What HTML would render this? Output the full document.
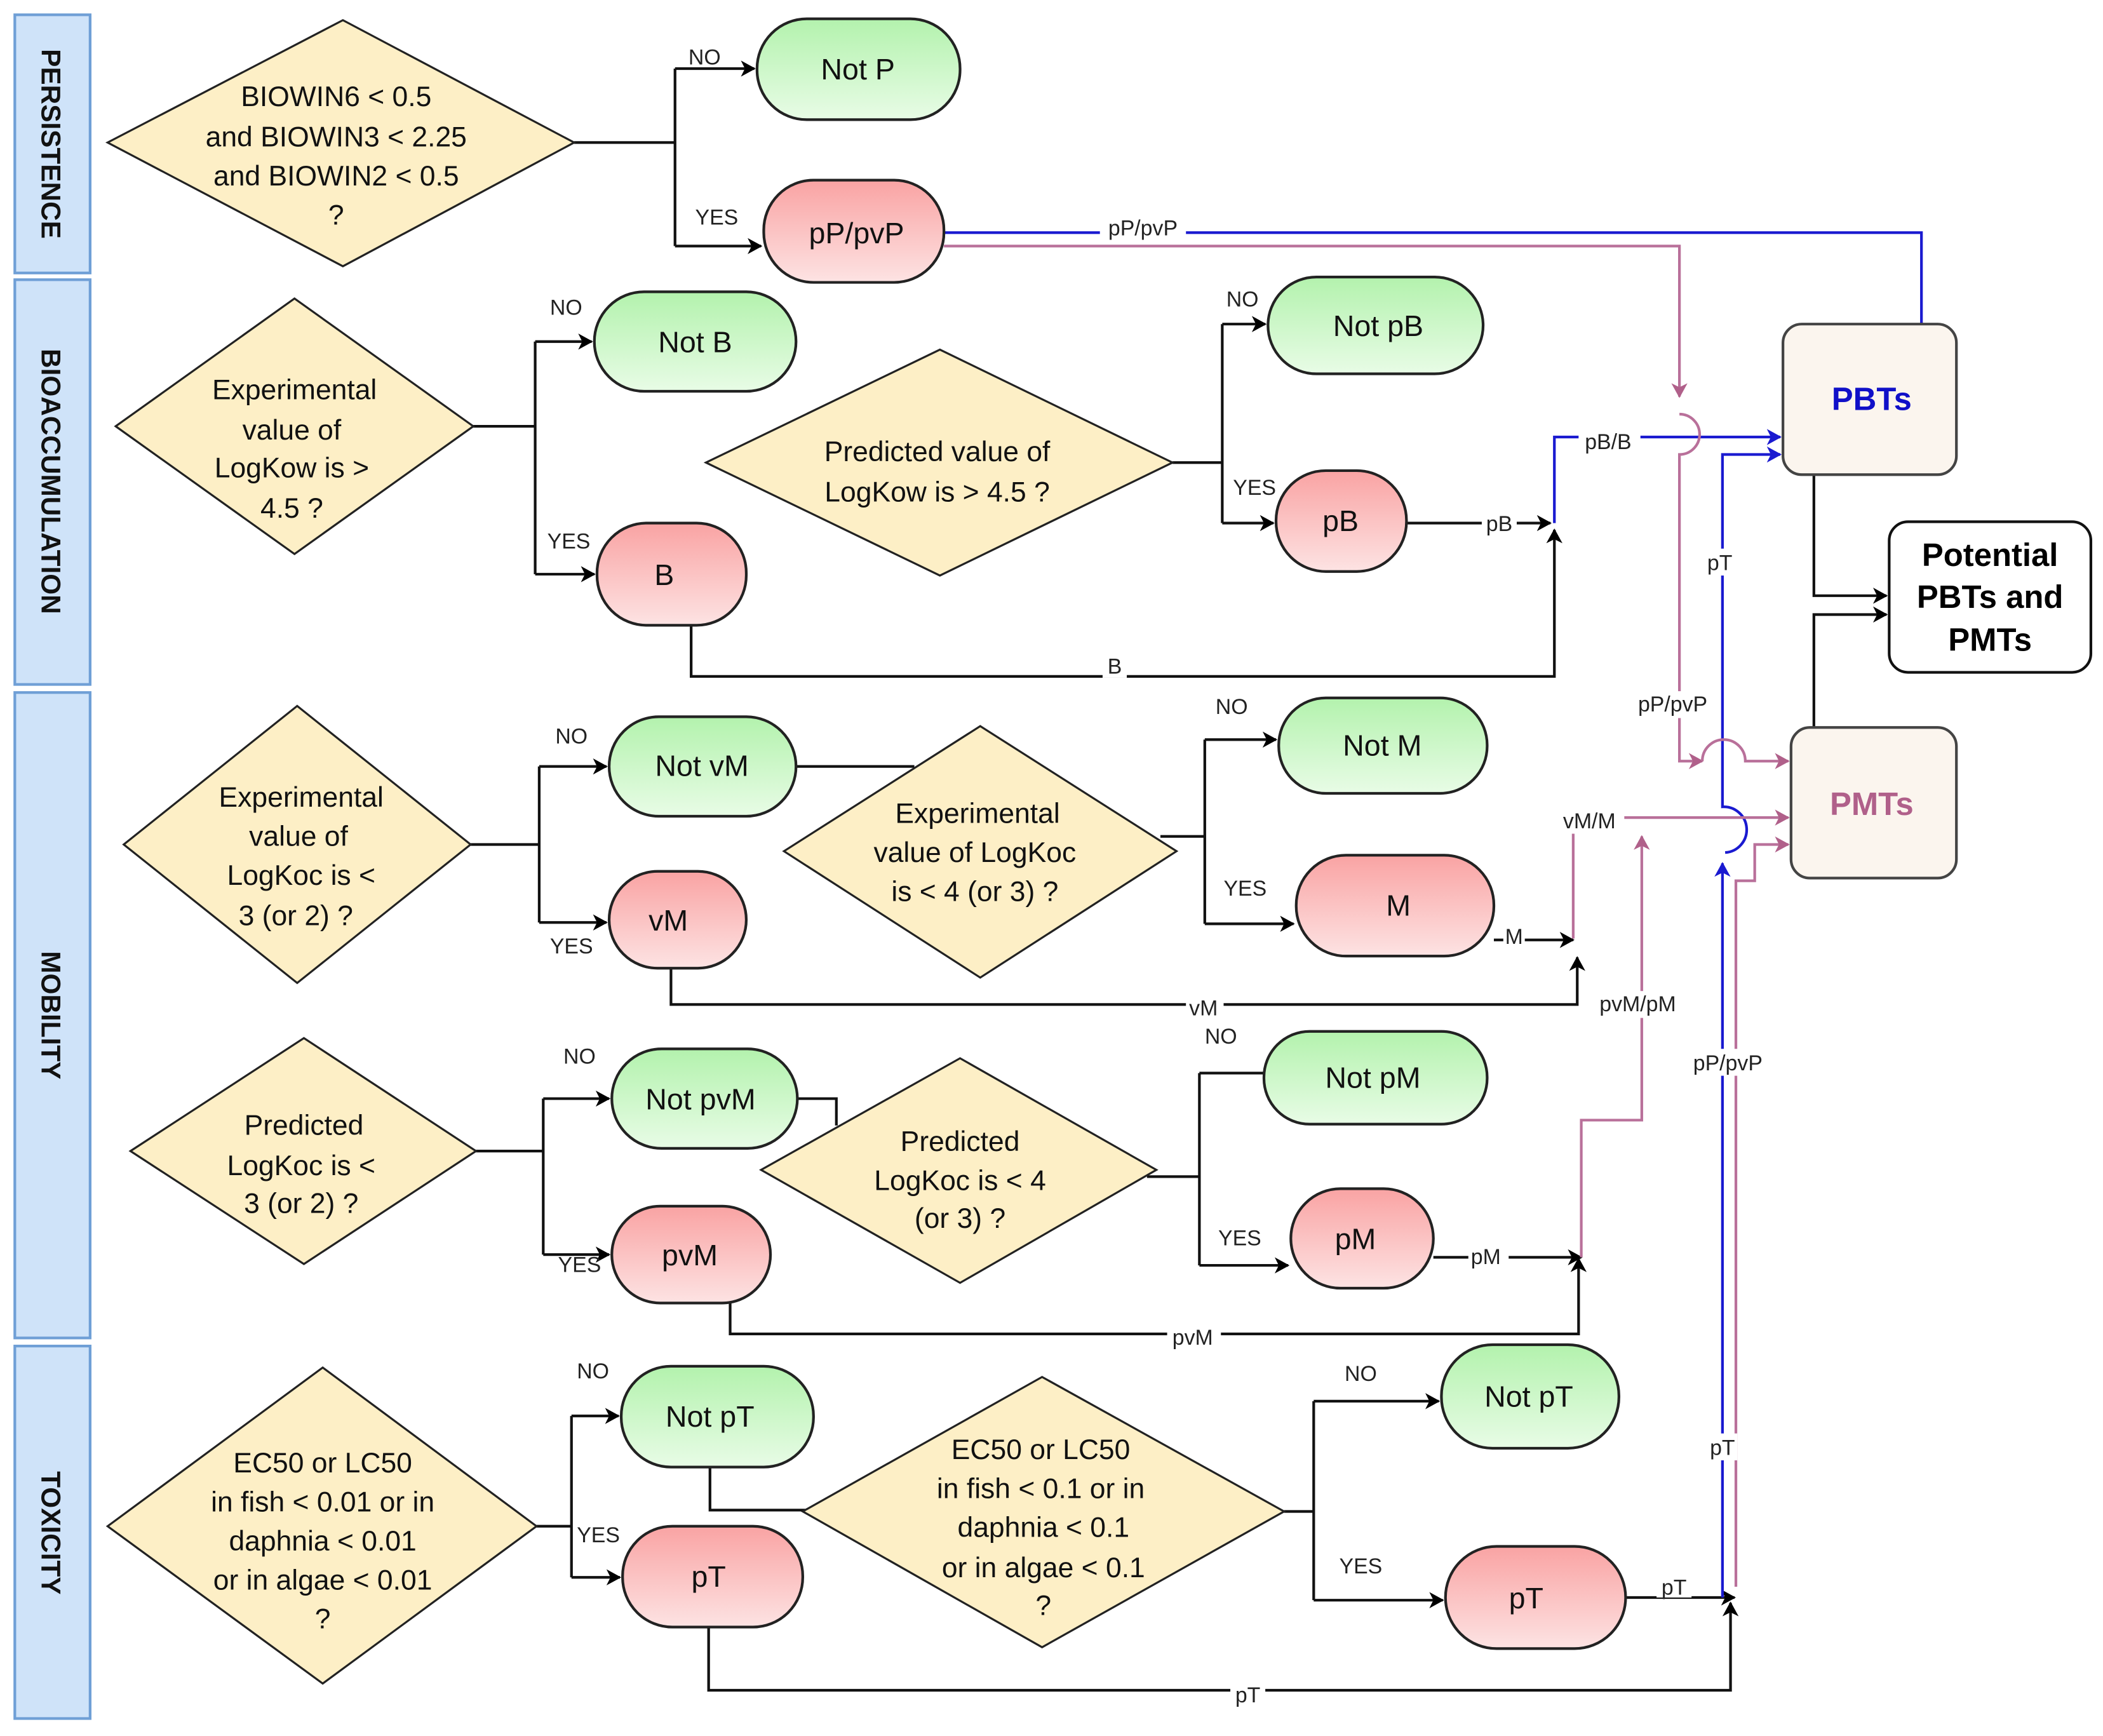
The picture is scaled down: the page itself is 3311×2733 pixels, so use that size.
<!DOCTYPE html>
<html><head><meta charset="utf-8"><style>
html,body{margin:0;padding:0;background:#fff;}
svg{display:block;}
text{font-family:"Liberation Sans",Arial,sans-serif;}
</style></head><body>
<svg width="3311" height="2733" viewBox="0 0 1564 1291" xmlns="http://www.w3.org/2000/svg">
<defs>
<linearGradient id="g" x1="0" y1="0" x2="0" y2="1"><stop offset="0" stop-color="#b3f2ad"/><stop offset="1" stop-color="#e8fce6"/></linearGradient>
<linearGradient id="r" x1="0" y1="0" x2="0" y2="1"><stop offset="0" stop-color="#f9a3a3"/><stop offset="1" stop-color="#fde3e3"/></linearGradient>
<marker id="ak" markerWidth="12" markerHeight="12" refX="10" refY="6" orient="auto" markerUnits="userSpaceOnUse"><path d="M0,0 L11,6 L0,12 L3,6 Z" fill="#000"/></marker>
<marker id="ab" markerWidth="12" markerHeight="12" refX="10" refY="6" orient="auto" markerUnits="userSpaceOnUse"><path d="M0,0 L11,6 L0,12 L3,6 Z" fill="#1a1ad0"/></marker>
<marker id="ap" markerWidth="12" markerHeight="12" refX="10" refY="6" orient="auto" markerUnits="userSpaceOnUse"><path d="M0,0 L11,6 L0,12 L3,6 Z" fill="#b0608a"/></marker>
</defs>

<!-- lanes -->
<g fill="#cfe3f9" stroke="#6f9fd6" stroke-width="2">
<rect x="11" y="11" width="56" height="192"/>
<rect x="11" y="208" width="56" height="301"/>
<rect x="11" y="515" width="56" height="480"/>
<rect x="11" y="1001" width="56" height="277"/>
</g>
<g font-weight="bold" font-size="20" fill="#111" text-anchor="middle">
<text transform="translate(31,107) rotate(90)">PERSISTENCE</text>
<text transform="translate(31,358) rotate(90)">BIOACCUMULATION</text>
<text transform="translate(31,755) rotate(90)">MOBILITY</text>
<text transform="translate(31,1140) rotate(90)">TOXICITY</text>
</g>

<!-- black connectors -->
<g fill="none" stroke="#111" stroke-width="2">
<path d="M427,106 H502"/><path d="M502,51 V183"/>
<path d="M502,51 H561" marker-end="url(#ak)"/><path d="M502,183 H566" marker-end="url(#ak)"/>
<path d="M352,317 H398"/><path d="M398,254 V427"/>
<path d="M398,254 H440" marker-end="url(#ak)"/><path d="M398,427 H442" marker-end="url(#ak)"/>
<path d="M514,465 V503 H1156 V394" marker-end="url(#ak)"/>
<path d="M872,344 H909"/><path d="M909,241 V389"/>
<path d="M909,241 H941" marker-end="url(#ak)"/><path d="M909,389 H947" marker-end="url(#ak)"/>
<path d="M1046,389 H1153" marker-end="url(#ak)"/>
<path d="M1349,353 V443 H1403" marker-end="url(#ak)"/>
<path d="M1349,541 V457 H1403" marker-end="url(#ak)"/>
<path d="M350,628 H401"/><path d="M401,570 V686"/>
<path d="M401,570 H451" marker-end="url(#ak)"/><path d="M401,686 H451" marker-end="url(#ak)"/>
<path d="M592,570 H680"/>
<path d="M863,622 H896"/><path d="M896,550 V687"/>
<path d="M896,550 H949" marker-end="url(#ak)"/><path d="M896,687 H962" marker-end="url(#ak)"/>
<path d="M1111,699 H1170" marker-end="url(#ak)"/>
<path d="M499,720 V747 H1173 V712" marker-end="url(#ak)"/>
<path d="M354,856 H404"/><path d="M404,817 V933"/>
<path d="M404,817 H453" marker-end="url(#ak)"/><path d="M404,933 H453" marker-end="url(#ak)"/>
<path d="M593,817 H622 V837"/>
<path d="M853,875 H892"/><path d="M892,798 V941"/>
<path d="M892,798 H940"/><path d="M892,941 H958" marker-end="url(#ak)"/>
<path d="M1066,935 H1176" marker-end="url(#ak)"/>
<path d="M543,969 V992 H1174 V936" marker-end="url(#ak)"/>
<path d="M399,1135 H425"/><path d="M425,1053 V1173"/>
<path d="M425,1053 H460" marker-end="url(#ak)"/><path d="M425,1173 H461" marker-end="url(#ak)"/>
<path d="M528,1091 V1123 H600"/>
<path d="M955,1124 H977"/><path d="M977,1042 V1190"/>
<path d="M977,1042 H1070" marker-end="url(#ak)"/><path d="M977,1190 H1073" marker-end="url(#ak)"/>
<path d="M1209,1188 H1290" marker-end="url(#ak)"/>
<path d="M527,1210 V1257 H1287 V1192" marker-end="url(#ak)"/>
</g>

<!-- blue connectors -->
<g fill="none" stroke="#1a1ad0" stroke-width="2">
<path d="M702,173 H1429 V241"/>
<path d="M1156,389 V325 H1324" marker-end="url(#ab)"/>
<path d="M1281,1188 V642" marker-end="url(#ab)"/>
<path d="M1283,634 A13,13 0 0 0 1281,600 V338 H1324" marker-end="url(#ab)"/>
</g>
<!-- pink connectors -->
<g fill="none" stroke="#b9709a" stroke-width="2">
<path d="M702,183 H1249 V295" marker-end="url(#ap)"/>
<path d="M1249,308 A14,14 0 0 1 1249,338 V566 H1266" marker-end="url(#ap)"/>
<path d="M1266,566 A15,15 0 0 1 1298,566 H1330" marker-end="url(#ap)"/>
<path d="M1170,698 V608 H1330" marker-end="url(#ap)"/>
<path d="M1176,935 V833 H1221 V622" marker-end="url(#ap)"/>
<path d="M1291,1180 V655 H1305 V628 H1330" marker-end="url(#ap)"/>
</g>

<!-- diamonds -->
<g fill="#fdefc6" stroke="#222" stroke-width="1.5">
<polygon points="80,106 255,15 427,106 255,198"/>
<polygon points="86,317 219,222 352,317 219,412"/>
<polygon points="525,344 699,260 872,344 699,428"/>
<polygon points="92,628 221,525 350,628 221,731"/>
<polygon points="583,633 729,540 875,633 729,727"/>
<polygon points="97,856 226,772 354,856 226,940"/>
<polygon points="566,870 714,787 860,870 714,954"/>
<polygon points="80,1135 240,1017 399,1135 240,1252"/>
<polygon points="597,1124 775,1024 955,1124 775,1225"/>
</g>

<!-- terminal nodes -->
<g stroke="#222" stroke-width="2">
<rect x="563" y="14" width="151" height="75" rx="37" fill="url(#g)"/>
<rect x="568" y="134" width="134" height="76" rx="37" fill="url(#r)"/>
<rect x="442" y="217" width="150" height="74" rx="37" fill="url(#g)"/>
<rect x="444" y="389" width="111" height="76" rx="37" fill="url(#r)"/>
<rect x="943" y="206" width="160" height="72" rx="36" fill="url(#g)"/>
<rect x="949" y="350" width="97" height="75" rx="37" fill="url(#r)"/>
<rect x="453" y="533" width="139" height="74" rx="37" fill="url(#g)"/>
<rect x="453" y="648" width="102" height="72" rx="36" fill="url(#r)"/>
<rect x="951" y="519" width="155" height="71" rx="35" fill="url(#g)"/>
<rect x="964" y="636" width="147" height="75" rx="37" fill="url(#r)"/>
<rect x="455" y="780" width="138" height="74" rx="37" fill="url(#g)"/>
<rect x="455" y="897" width="118" height="72" rx="36" fill="url(#r)"/>
<rect x="940" y="767" width="166" height="69" rx="34" fill="url(#g)"/>
<rect x="960" y="884" width="106" height="74" rx="37" fill="url(#r)"/>
<rect x="462" y="1016" width="143" height="75" rx="37" fill="url(#g)"/>
<rect x="463" y="1135" width="134" height="75" rx="37" fill="url(#r)"/>
<rect x="1072" y="1000" width="132" height="77" rx="38" fill="url(#g)"/>
<rect x="1075" y="1150" width="134" height="76" rx="38" fill="url(#r)"/>
</g>
<g stroke="#444" stroke-width="2">
<rect x="1326" y="241" width="129" height="112" rx="14" fill="#fbf5ee"/>
<rect x="1332" y="541" width="123" height="112" rx="14" fill="#fbf5ee"/>
<rect x="1405" y="388" width="150" height="112" rx="14" fill="#fff" stroke="#111"/>
</g>

<!-- node text -->
<g font-size="21" fill="#111" text-anchor="middle">
<text x="250" y="79">BIOWIN6 &lt; 0.5</text>
<text x="250" y="109">and BIOWIN3 &lt; 2.25</text>
<text x="250" y="138">and BIOWIN2 &lt; 0.5</text>
<text x="250" y="167">?</text>
<text x="219" y="297">Experimental</text>
<text x="217" y="327">value of</text>
<text x="217" y="355">LogKow is &gt;</text>
<text x="217" y="385">4.5 ?</text>
<text x="697" y="343">Predicted value of</text>
<text x="697" y="373">LogKow is &gt; 4.5 ?</text>
<text x="224" y="600">Experimental</text>
<text x="222" y="629">value of</text>
<text x="224" y="658">LogKoc is  &lt;</text>
<text x="220" y="688">3 (or 2) ?</text>
<text x="727" y="612">Experimental</text>
<text x="725" y="641">value of LogKoc</text>
<text x="725" y="670">is  &lt; 4 (or 3)  ?</text>
<text x="226" y="844">Predicted</text>
<text x="224" y="874">LogKoc is  &lt;</text>
<text x="224" y="902">3 (or 2) ?</text>
<text x="714" y="856">Predicted</text>
<text x="714" y="885">LogKoc is  &lt; 4</text>
<text x="714" y="913">(or 3)  ?</text>
<text x="240" y="1095">EC50 or LC50</text>
<text x="240" y="1124">in fish &lt; 0.01 or in</text>
<text x="240" y="1153">daphnia &lt; 0.01</text>
<text x="240" y="1182">or in algae &lt; 0.01</text>
<text x="240" y="1211">?</text>
<text x="774" y="1085">EC50 or LC50</text>
<text x="774" y="1114">in fish &lt; 0.1 or in</text>
<text x="776" y="1143">daphnia &lt; 0.1</text>
<text x="776" y="1173">or in algae &lt; 0.1</text>
<text x="776" y="1201">?</text>
</g>
<g font-size="22" fill="#111" text-anchor="middle">
<text x="638" y="59">Not P</text>
<text x="637" y="181">pP/pvP</text>
<text x="517" y="262">Not B</text>
<text x="494" y="435">B</text>
<text x="1025" y="250">Not pB</text>
<text x="997" y="395">pB</text>
<text x="522" y="577">Not vM</text>
<text x="497" y="692">vM</text>
<text x="1028" y="562">Not M</text>
<text x="1040" y="681">M</text>
<text x="521" y="825">Not pvM</text>
<text x="513" y="941">pvM</text>
<text x="1021" y="809">Not pM</text>
<text x="1008" y="929">pM</text>
<text x="528" y="1061">Not pT</text>
<text x="527" y="1180">pT</text>
<text x="1137" y="1046">Not pT</text>
<text x="1135" y="1196">pT</text>
</g>
<g font-size="24" font-weight="bold" text-anchor="middle">
<text x="1392" y="305" fill="#1010c8">PBTs</text>
<text x="1392" y="606" fill="#b0608a">PMTs</text>
<text x="1480" y="421" fill="#000">Potential</text>
<text x="1480" y="452" fill="#000">PBTs and</text>
<text x="1480" y="484" fill="#000">PMTs</text>
</g>

<!-- edge labels -->
<g font-size="16" fill="#222" text-anchor="middle">
<g fill="#fff" stroke="none">
<rect x="818" y="160" width="64" height="17"/><rect x="1174" y="320" width="46" height="17"/>
<rect x="1102" y="380" width="26" height="17"/><rect x="820" y="487" width="18" height="17"/>
<rect x="1270" y="408" width="22" height="20"/><rect x="1208" y="514" width="70" height="20"/>
<rect x="1154" y="600" width="54" height="20"/><rect x="1118" y="688" width="16" height="17"/>
<rect x="882" y="740" width="28" height="17"/><rect x="1180" y="737" width="76" height="20"/>
<rect x="1250" y="780" width="70" height="20"/><rect x="1092" y="926" width="30" height="17"/>
<rect x="868" y="985" width="40" height="17"/><rect x="1270" y="1066" width="22" height="20"/>
<rect x="1232" y="1171" width="26" height="17"/><rect x="915" y="1250" width="26" height="17"/>
</g>
<text x="524" y="48">NO</text><text x="533" y="167">YES</text>
<text x="421" y="234">NO</text><text x="423" y="408">YES</text>
<text x="924" y="228">NO</text><text x="933" y="368">YES</text>
<text x="425" y="553">NO</text><text x="425" y="709">YES</text>
<text x="916" y="531">NO</text><text x="926" y="666">YES</text>
<text x="431" y="791">NO</text><text x="431" y="946">YES</text>
<text x="908" y="776">NO</text><text x="922" y="926">YES</text>
<text x="441" y="1025">NO</text><text x="445" y="1147">YES</text>
<text x="1012" y="1027">NO</text><text x="1012" y="1170">YES</text>
<text x="850" y="175">pP/pvP</text>
<text x="1196" y="334">pB/B</text>
<text x="1115" y="395">pB</text>
<text x="829" y="501">B</text>
<text x="1279" y="424">pT</text>
<text x="1244" y="529">pP/pvP</text>
<text x="1182" y="616">vM/M</text>
<text x="1126" y="702">M</text>
<text x="895" y="755">vM</text>
<text x="1218" y="752">pvM/pM</text>
<text x="1285" y="796">pP/pvP</text>
<text x="1105" y="940">pM</text>
<text x="887" y="1000">pvM</text>
<text x="1281" y="1082">pT</text>
<text x="1245" y="1186">pT</text>
<text x="928" y="1266">pT</text>
</g>
</svg>
</body></html>
